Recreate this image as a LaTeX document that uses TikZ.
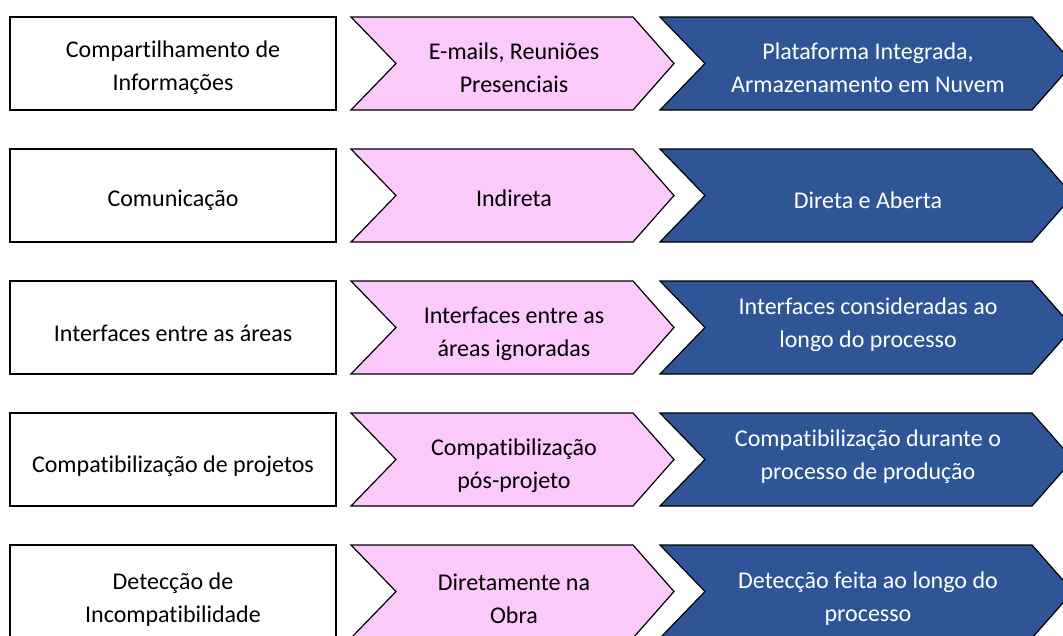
\documentclass[tikz,border=0pt]{standalone}
\usepackage{fontspec}
\setmainfont[Ligatures={NoCommon}]{Carlito}
\definecolor{rosa}{RGB}{251,201,250}
\definecolor{azul}{RGB}{47,85,151}
\tikzset{
  caixa/.style={draw=black, line width=1.2pt, fill=white},
  antes/.style={draw=black, line width=1.2pt, fill=rosa},
  depois/.style={draw=black, line width=1.2pt, fill=azul},
  rotulo/.style={align=center, font=\fontsize{24}{33}\selectfont},
}
\begin{document}
\begin{tikzpicture}[x=1pt,y=-1pt]
    \useasboundingbox (0,0) rectangle (1063,635);
    \clip (0,0) rectangle (1063,635);
    % linhas: caixa, seta rosa (antes), seta azul (depois)
    \foreach \r/\y in {1/17, 2/149, 3/281, 4/413, 5/545}
    {
    \draw[caixa] (10,\y) rectangle ++(326,93);
    \draw[antes] (351,\y) -- ++(282,0) -- ++(41,46.5) -- ++(-41,46.5) -- ++(-282,0) -- ++(45,-46.5) -- cycle;
    \draw[depois] (660,\y) -- ++(372,0) -- ++(41,46.5) -- ++(-41,46.5) -- ++(-372,0) -- ++(45,-46.5) -- cycle;
    }
    % textos
    \node[rotulo] (crit1) at (173,68) {Compartilhamento de\\Informações};
    \node[rotulo] (ant1) at (514,68) {E-mails, Reuniões\\Presenciais};
    \node[rotulo,text=white] (dep1) at (868,68) {Plataforma Integrada,\\Armazenamento em Nuvem};
    \node[rotulo] (crit2) at (173,200) {Comunicação};
    \node[rotulo] (ant2) at (514,198) {Indireta};
    \node[rotulo,text=white] (dep2) at (868,200) {Direta e Aberta};
    \node[rotulo] (crit3) at (173,333) {Interfaces entre as áreas};
    \node[rotulo] (ant3) at (514,334) {Interfaces entre as\\áreas ignoradas};
    \node[rotulo,text=white] (dep3) at (868,325) {Interfaces consideradas ao\\longo do processo};
    \node[rotulo] (crit4) at (173,466) {Compatibilização de projetos};
    \node[rotulo] (ant4) at (514,466) {Compatibilização\\pós-projeto};
    \node[rotulo,text=white] (dep4) at (868,457) {Compatibilização durante o\\processo de produção};
    \node[rotulo] (crit5) at (173,600) {Detecção de\\Incompatibilidade};
    \node[rotulo] (ant5) at (514,599) {Diretamente na\\Obra};
    \node[rotulo,text=white] (dep5) at (868,599) {Detecção feita ao longo do\\processo};
\end{tikzpicture}
\end{document}
